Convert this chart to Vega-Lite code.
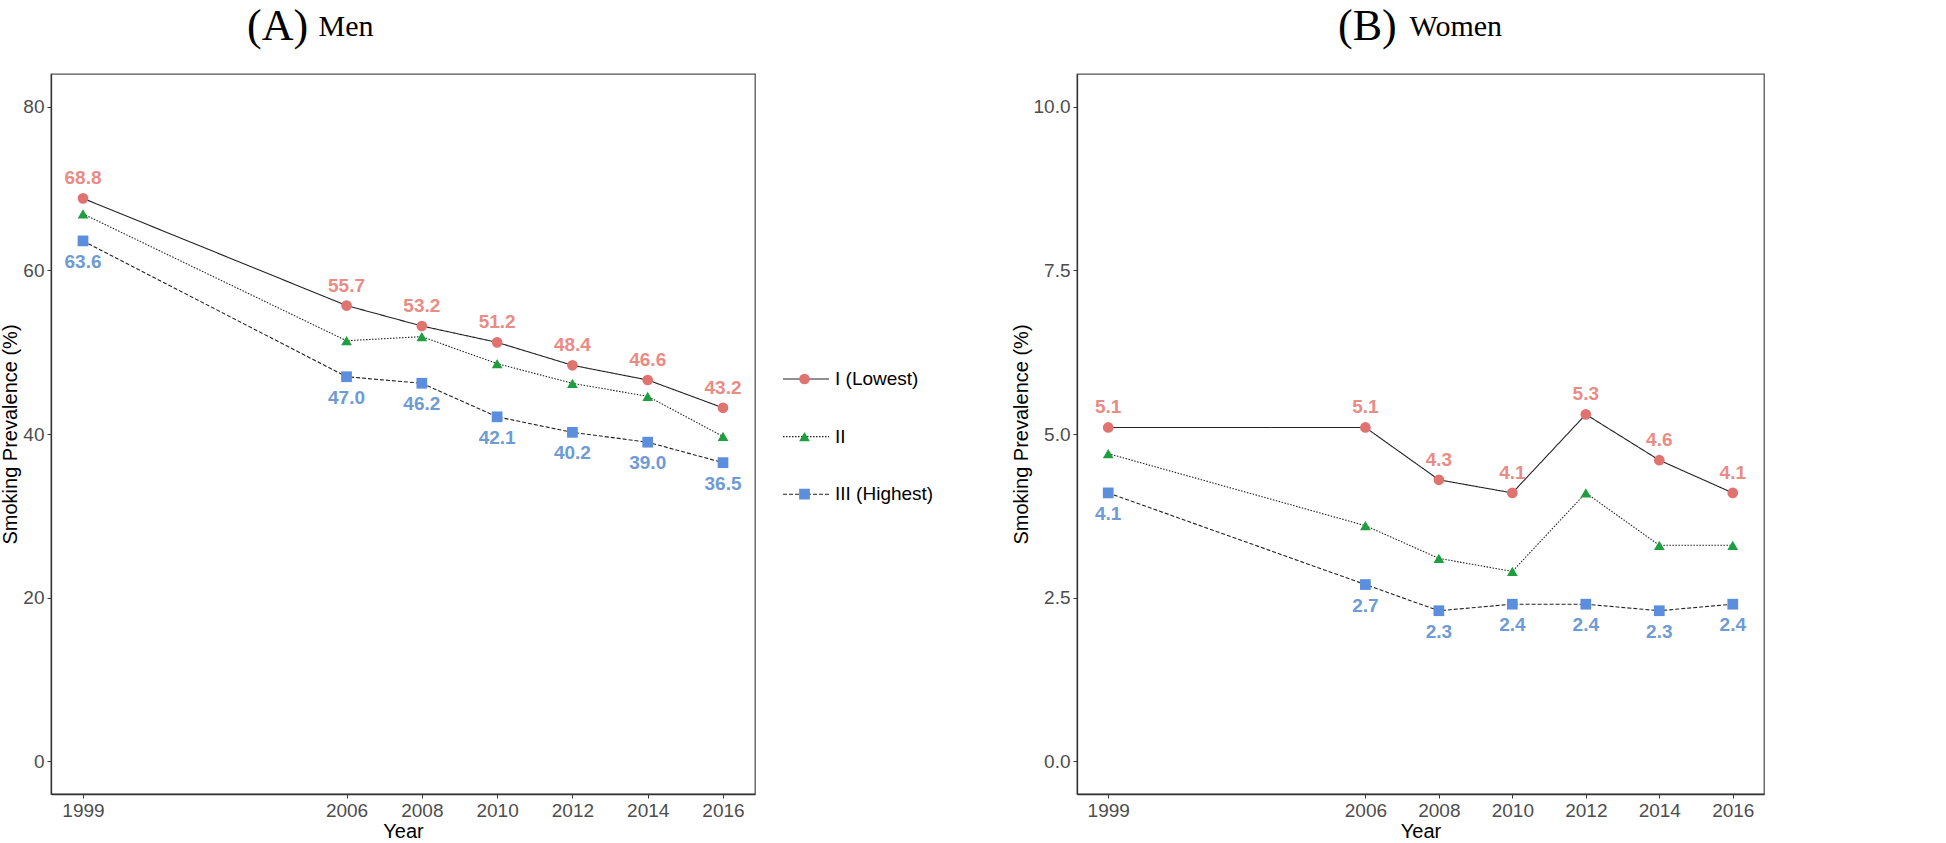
{
  "$schema": "https://vega.github.io/schema/vega-lite/v6.json",
  "padding": {"top": 4, "left": 0, "right": 0, "bottom": 0},
  "background": "white",
  "config": {
    "font": "Liberation Sans",
    "view": {"stroke": "#555", "strokeWidth": 1.3},
    "axis": {"grid": false, "domainColor": "#333", "domainWidth": 1.3, "tickColor": "#333", "tickSize": 4, "labelFontSize": 19, "labelColor": "#4D4D4D", "titleFontSize": 20, "titleFontWeight": "normal", "titleColor": "black", "labelPadding": 3, "titlePadding": 1},
    "legend": {"padding": 0},
    "title": {"font": "Liberation Serif", "fontSize": 44, "fontWeight": "normal", "color": "black", "anchor": "start", "frame": "group", "baseline": "alphabetic", "offset": 0}
  },
  "datasets": {
    "men": [
      {"year": 1999, "group": "I (Lowest)", "value": 68.8},
      {"year": 2006, "group": "I (Lowest)", "value": 55.7},
      {"year": 2008, "group": "I (Lowest)", "value": 53.2},
      {"year": 2010, "group": "I (Lowest)", "value": 51.2},
      {"year": 2012, "group": "I (Lowest)", "value": 48.4},
      {"year": 2014, "group": "I (Lowest)", "value": 46.6},
      {"year": 2016, "group": "I (Lowest)", "value": 43.2},
      {"year": 1999, "group": "II", "value": 66.9},
      {"year": 2006, "group": "II", "value": 51.4},
      {"year": 2008, "group": "II", "value": 51.9},
      {"year": 2010, "group": "II", "value": 48.6},
      {"year": 2012, "group": "II", "value": 46.2},
      {"year": 2014, "group": "II", "value": 44.6},
      {"year": 2016, "group": "II", "value": 39.7},
      {"year": 1999, "group": "III (Highest)", "value": 63.6},
      {"year": 2006, "group": "III (Highest)", "value": 47.0},
      {"year": 2008, "group": "III (Highest)", "value": 46.2},
      {"year": 2010, "group": "III (Highest)", "value": 42.1},
      {"year": 2012, "group": "III (Highest)", "value": 40.2},
      {"year": 2014, "group": "III (Highest)", "value": 39.0},
      {"year": 2016, "group": "III (Highest)", "value": 36.5}
    ],
    "women": [
      {"year": 1999, "group": "I (Lowest)", "value": 5.1},
      {"year": 2006, "group": "I (Lowest)", "value": 5.1},
      {"year": 2008, "group": "I (Lowest)", "value": 4.3},
      {"year": 2010, "group": "I (Lowest)", "value": 4.1},
      {"year": 2012, "group": "I (Lowest)", "value": 5.3},
      {"year": 2014, "group": "I (Lowest)", "value": 4.6},
      {"year": 2016, "group": "I (Lowest)", "value": 4.1},
      {"year": 1999, "group": "II", "value": 4.7},
      {"year": 2006, "group": "II", "value": 3.6},
      {"year": 2008, "group": "II", "value": 3.1},
      {"year": 2010, "group": "II", "value": 2.9},
      {"year": 2012, "group": "II", "value": 4.1},
      {"year": 2014, "group": "II", "value": 3.3},
      {"year": 2016, "group": "II", "value": 3.3},
      {"year": 1999, "group": "III (Highest)", "value": 4.1},
      {"year": 2006, "group": "III (Highest)", "value": 2.7},
      {"year": 2008, "group": "III (Highest)", "value": 2.3},
      {"year": 2010, "group": "III (Highest)", "value": 2.4},
      {"year": 2012, "group": "III (Highest)", "value": 2.4},
      {"year": 2014, "group": "III (Highest)", "value": 2.3},
      {"year": 2016, "group": "III (Highest)", "value": 2.4}
    ]
  },
  "spacing": 322,
  "bounds": "flush",
  "hconcat": [
    {
      "width": 704,
      "height": 720,
      "data": {"name": "men"},
      "title": {"text": "(A)", "dx": 196, "dy": 42},
      "layer": [
        {
          "mark": {"type": "line", "color": "#222", "strokeWidth": 1.1},
          "encoding": {
            "x": {"field": "year", "type": "quantitative", "scale": {"domain": [1998.15, 2016.85], "nice": false, "zero": false},
                  "axis": {"orient": "bottom", "values": [1999, 2006, 2008, 2010, 2012, 2014, 2016], "format": "d", "title": "Year", "labelFlush": false}},
            "y": {"field": "value", "type": "quantitative", "scale": {"domain": [-4, 84], "nice": false, "zero": false},
                  "axis": {"values": [0, 20, 40, 60, 80], "title": "Smoking Prevalence (%)", "titlePadding": 2}},
            "strokeDash": {"field": "group", "type": "nominal",
              "scale": {"domain": ["I (Lowest)", "II", "III (Highest)"], "range": [[1, 0], [1.5, 1.5], [4, 2]]},
              "legend": {"orient": "none", "legendX": 731, "legendY": 295, "title": null, "symbolType": "stroke", "symbolSize": 2116, "symbolStrokeColor": "#222", "symbolStrokeWidth": 1.1, "clipHeight": 20, "rowPadding": 37.6, "labelFontSize": 19, "labelColor": "black", "labelOffset": 5, "padding": 0}}
          }
        },
        {
          "mark": {"type": "point", "filled": true, "size": 115, "opacity": 1},
          "encoding": {
            "x": {"field": "year", "type": "quantitative", "axis": null},
            "y": {"field": "value", "type": "quantitative"},
            "shape": {"field": "group", "type": "nominal", "scale": {"range": ["circle", "triangle-up", "square"]},
              "legend": {"orient": "none", "legendX": 748, "legendY": 295, "title": null, "symbolSize": 115, "symbolStrokeWidth": 0, "clipHeight": 20, "rowPadding": 37.6, "labelExpr": "''", "labelFontSize": 1, "padding": 0}},
            "color": {"field": "group", "type": "nominal", "scale": {"range": ["#E0726F", "#1E9E3E", "#5B8EDC"]},
              "legend": {"orient": "none", "legendX": 748, "legendY": 295, "title": null, "symbolSize": 115, "symbolStrokeWidth": 0, "clipHeight": 20, "rowPadding": 37.6, "labelExpr": "''", "labelFontSize": 1, "padding": 0}}
          }
        },
        {
          "transform": [{"filter": "datum.group === 'I (Lowest)'"}],
          "mark": {"type": "text", "dy": -20, "fontWeight": "bold", "fontSize": 19, "color": "#EA8B84"},
          "encoding": {
            "x": {"field": "year", "type": "quantitative",
                  "axis": {"orient": "top", "title": "Men", "labels": false, "ticks": false, "domain": false, "titleFont": "Liberation Serif", "titleFontSize": 30, "titleX": 267, "titleY": -39, "titleAlign": "left", "titleBaseline": "alphabetic", "titleAnchor": null}},
            "y": {"field": "value", "type": "quantitative"},
            "text": {"field": "value", "type": "quantitative", "format": ".1f"}
          }
        },
        {
          "transform": [{"filter": "datum.group === 'III (Highest)'"}],
          "mark": {"type": "text", "dy": 21, "fontWeight": "bold", "fontSize": 19, "color": "#6E9BD6"},
          "encoding": {
            "x": {"field": "year", "type": "quantitative", "axis": null},
            "y": {"field": "value", "type": "quantitative"},
            "text": {"field": "value", "type": "quantitative", "format": ".1f"}
          }
        }
      ],
      "resolve": {"axis": {"x": "independent"}}
    },
    {
      "width": 687,
      "height": 720,
      "data": {"name": "women"},
      "title": {"text": "(B)", "dx": 261, "dy": 42},
      "layer": [
        {
          "mark": {"type": "line", "color": "#222", "strokeWidth": 1.1},
          "encoding": {
            "x": {"field": "year", "type": "quantitative", "scale": {"domain": [1998.15, 2016.85], "nice": false, "zero": false},
                  "axis": {"orient": "bottom", "values": [1999, 2006, 2008, 2010, 2012, 2014, 2016], "format": "d", "title": "Year", "labelFlush": false}},
            "y": {"field": "value", "type": "quantitative", "scale": {"domain": [-0.5, 10.5], "nice": false, "zero": false},
                  "axis": {"values": [0, 2.5, 5, 7.5, 10], "format": ".1f", "title": "Smoking Prevalence (%)", "titlePadding": 2}},
            "strokeDash": {"field": "group", "type": "nominal",
              "scale": {"domain": ["I (Lowest)", "II", "III (Highest)"], "range": [[1, 0], [1.5, 1.5], [4, 2]]},
              "legend": {"orient": "none", "legendX": 714, "legendY": 295, "title": null, "symbolType": "stroke", "symbolSize": 2116, "symbolStrokeColor": "#222", "symbolStrokeWidth": 1.1, "clipHeight": 20, "rowPadding": 37.6, "labelFontSize": 19, "labelColor": "black", "labelOffset": 5, "padding": 0}}
          }
        },
        {
          "mark": {"type": "point", "filled": true, "size": 115, "opacity": 1},
          "encoding": {
            "x": {"field": "year", "type": "quantitative", "axis": null},
            "y": {"field": "value", "type": "quantitative"},
            "shape": {"field": "group", "type": "nominal", "scale": {"range": ["circle", "triangle-up", "square"]},
              "legend": {"orient": "none", "legendX": 731, "legendY": 295, "title": null, "symbolSize": 115, "symbolStrokeWidth": 0, "clipHeight": 20, "rowPadding": 37.6, "labelExpr": "''", "labelFontSize": 1, "padding": 0}},
            "color": {"field": "group", "type": "nominal", "scale": {"range": ["#E0726F", "#1E9E3E", "#5B8EDC"]},
              "legend": {"orient": "none", "legendX": 731, "legendY": 295, "title": null, "symbolSize": 115, "symbolStrokeWidth": 0, "clipHeight": 20, "rowPadding": 37.6, "labelExpr": "''", "labelFontSize": 1, "padding": 0}}
          }
        },
        {
          "transform": [{"filter": "datum.group === 'I (Lowest)'"}],
          "mark": {"type": "text", "dy": -20, "fontWeight": "bold", "fontSize": 19, "color": "#EA8B84"},
          "encoding": {
            "x": {"field": "year", "type": "quantitative",
                  "axis": {"orient": "top", "title": "Women", "labels": false, "ticks": false, "domain": false, "titleFont": "Liberation Serif", "titleFontSize": 30, "titleX": 332, "titleY": -39, "titleAlign": "left", "titleBaseline": "alphabetic", "titleAnchor": null}},
            "y": {"field": "value", "type": "quantitative"},
            "text": {"field": "value", "type": "quantitative", "format": ".1f"}
          }
        },
        {
          "transform": [{"filter": "datum.group === 'III (Highest)'"}],
          "mark": {"type": "text", "dy": 21, "fontWeight": "bold", "fontSize": 19, "color": "#6E9BD6"},
          "encoding": {
            "x": {"field": "year", "type": "quantitative", "axis": null},
            "y": {"field": "value", "type": "quantitative"},
            "text": {"field": "value", "type": "quantitative", "format": ".1f"}
          }
        }
      ],
      "resolve": {"axis": {"x": "independent"}}
    }
  ]
}
